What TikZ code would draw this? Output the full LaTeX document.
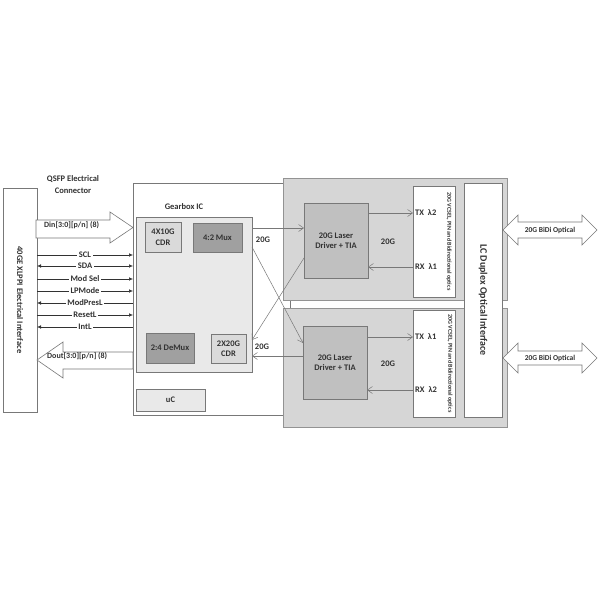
\documentclass[tikz,border=0pt]{standalone}
\usepackage{fontspec}
\setmainfont{Carlito}
\usepackage{tikz}
\usetikzlibrary{arrows.meta, positioning, calc}
\definecolor{myline}{RGB}{120,120,120}
\definecolor{mytext}{RGB}{50,50,50}
\definecolor{bgarea}{RGB}{214,214,214}
\definecolor{gearfill}{RGB}{233,233,233}
\definecolor{cdrfill}{RGB}{218,218,218}
\definecolor{muxfill}{RGB}{160,160,160}
\definecolor{drvfill}{RGB}{192,192,192}
\tikzset{
  box/.style={rectangle, draw=myline, line width=0.6pt,
    inner sep=0pt, outer sep=0pt, text=mytext, align=center,
    font=\bfseries\fontsize{8.5}{10.5}\selectfont},
  whitebox/.style={box, fill=white},
  link/.style={-{Straight Barb[length=5pt,width=7pt]}, draw=myline, line width=0.5pt},
  sig/.style={draw=mytext, line width=0.5pt},
  siglbl/.style={fill=white, inner sep=1.5pt, text=mytext,
    font=\bfseries\fontsize{8.5}{10}\selectfont},
  lbl/.style={text=mytext, inner sep=0pt, align=center,
    font=\bfseries\fontsize{8.5}{10.5}\selectfont},
  bigarrow/.style={draw=myline, fill=white, line width=0.6pt, line join=miter},
  area/.style={draw=myline!80, fill=bgarea, line width=0.5pt},
  >={Latex[length=4pt,width=3.5pt]}
}

\begin{document}
\begin{tikzpicture}[x=1pt, y=-1pt]
  \fill[white] (0,0) rectangle (600,600);
  \useasboundingbox (0,0) rectangle (600,600);

  % Host side
  \node[whitebox, minimum width=34pt, minimum height=224pt] (xlppi) at (20,300) {};
  \node[lbl, rotate=-90, font=\bfseries\fontsize{8.5}{10}\selectfont] at (xlppi.center) {40GE XLPPI Electrical Interface};
  \node[lbl] (qsfp) at (73,184.5) {QSFP Electrical\\[2pt]Connector};

  % Module outline and optical sub-assemblies
  \node[whitebox, minimum width=157pt, minimum height=232pt] (module) at (211.5,299) {};
  \draw[area] (283,178) rectangle (507,300);
  \draw[area] (283,308) rectangle (507,427);

  % Gearbox IC
  \node[box, fill=gearfill, minimum width=116pt, minimum height=155pt] (gearbox) at (194,294.5) {};
  \node[lbl] at (184,207) {Gearbox IC};
  \node[box, fill=cdrfill, minimum width=36pt, minimum height=30pt] (cdrin) at (163,237) {4X10G\\CDR};
  \node[box, fill=muxfill, minimum width=49pt, minimum height=29pt] (mux) at (217.5,237.5) {4:2 Mux};
  \node[box, fill=muxfill, minimum width=48pt, minimum height=30pt] (demux) at (170,348) {2:4 DeMux};
  \node[box, fill=cdrfill, minimum width=35pt, minimum height=29pt] (cdrout) at (228.5,348.5) {2X20G\\CDR};
  \node[box, fill=gearfill, minimum width=69pt, minimum height=22pt] (uc) at (170.5,400) {uC};

  % Laser drivers
  \node[box, fill=drvfill, minimum width=64pt, minimum height=75pt] (drvtop) at (336,240.5) {20G Laser\\Driver + TIA};
  \node[box, fill=drvfill, minimum width=64pt, minimum height=73pt] (drvbot) at (335,362.5) {20G Laser\\Driver + TIA};

  % Optics
  \node[whitebox, minimum width=42pt, minimum height=111pt] (opttop) at (434,241.5) {};
  \node[whitebox, minimum width=42pt, minimum height=107pt] (optbot) at (434,363.5) {};
  \node[lbl, rotate=-90, font=\bfseries\fontsize{6}{7}\selectfont] at (449,241.5) {20G VCSEL, PIN and Bidirectional optics};
  \node[lbl, rotate=-90, font=\bfseries\fontsize{6}{7}\selectfont] at (450,363.5) {20G VCSEL, PIN and Bidirectional optics};
  \node[whitebox, minimum width=38pt, minimum height=234pt] (lc) at (483,300) {};
  \node[lbl, rotate=-90, font=\bfseries\fontsize{10}{12}\selectfont] at (lc.center) {LC Duplex Optical Interface};

  % 20G lanes
  \draw[link] (gearbox.east |- 0,228) -- (drvtop.west |- 0,228);
  \draw[link] (gearbox.east |- 0,247) -- (drvbot.west |- 0,343);
  \draw[link] (drvtop.west |- 0,258) -- (gearbox.east |- 0,340);
  \draw[link] (drvbot.west |- 0,356) -- (gearbox.east |- 0,356);
  \node[lbl] at (263,240) {20G};
  \node[lbl] at (262,347) {20G};

  \draw[link] (drvtop.east |- 0,213) -- (opttop.west |- 0,213);
  \draw[link] (opttop.west |- 0,267) -- (drvtop.east |- 0,267);
  \draw[link] (drvbot.east |- 0,337) -- (optbot.west |- 0,337);
  \draw[link] (optbot.west |- 0,390) -- (drvbot.east |- 0,390);
  \node[lbl] at (388,242) {20G};
  \node[lbl] at (388,364) {20G};
  \node[lbl, anchor=west] at (415,213) {TX~~λ2};
  \node[lbl, anchor=west] at (415,267) {RX~~λ1};
  \node[lbl, anchor=west] at (415,337) {TX~~λ1};
  \node[lbl, anchor=west] at (415,390) {RX~~λ2};

  % Management signals
  \draw[sig, ->] (xlppi.east |- 0,255) -- (module.west |- 0,255) node[siglbl, midway] {SCL};
  \draw[sig, <->] (xlppi.east |- 0,266) -- (module.west |- 0,266) node[siglbl, midway] {SDA};
  \draw[sig, ->] (xlppi.east |- 0,279) -- (module.west |- 0,279) node[siglbl, midway] {Mod Sel};
  \draw[sig, ->] (xlppi.east |- 0,291) -- (module.west |- 0,291) node[siglbl, midway] {LPMode};
  \draw[sig, <-] (xlppi.east |- 0,303) -- (module.west |- 0,303) node[siglbl, midway] {ModPresL};
  \draw[sig, ->] (xlppi.east |- 0,315) -- (module.west |- 0,315) node[siglbl, midway] {ResetL};
  \draw[sig, <-] (xlppi.east |- 0,327) -- (module.west |- 0,327) node[siglbl, midway] {IntL};

  % Data paths
  \draw[bigarrow] (36,220) -- (110,220) -- (110,212) -- (133,227.5) -- (110,243) -- (110,238) -- (36,238) -- cycle;
  \node[lbl, anchor=west, font=\bfseries\fontsize{8}{9}\selectfont] (din) at (44,225) {Din[3:0][p/n] (8)};
  \draw[bigarrow] (133,352) -- (63,352) -- (63,342) -- (37,360) -- (63,378) -- (63,369) -- (133,369) -- cycle;
  \node[lbl, anchor=west, font=\bfseries\fontsize{8}{9}\selectfont] (dout) at (47,356) {Dout[3:0][p/n] (8)};

  % Optical ports
  \draw[bigarrow] (503,230) -- (518,215) -- (518,222) -- (582,222) -- (582,215) -- (597,230)
    -- (582,245) -- (582,238) -- (518,238) -- (518,245) -- cycle;
  \node[lbl, font=\bfseries\fontsize{7.5}{8}\selectfont] (bidi1) at (550,230) {20G BiDi Optical};
  \draw[bigarrow] (503,358) -- (518,343) -- (518,351) -- (582,351) -- (582,343) -- (597,358)
    -- (582,373) -- (582,365) -- (518,365) -- (518,373) -- cycle;
  \node[lbl, font=\bfseries\fontsize{7.5}{8}\selectfont] (bidi2) at (550,358) {20G BiDi Optical};
\end{tikzpicture}
\end{document}
